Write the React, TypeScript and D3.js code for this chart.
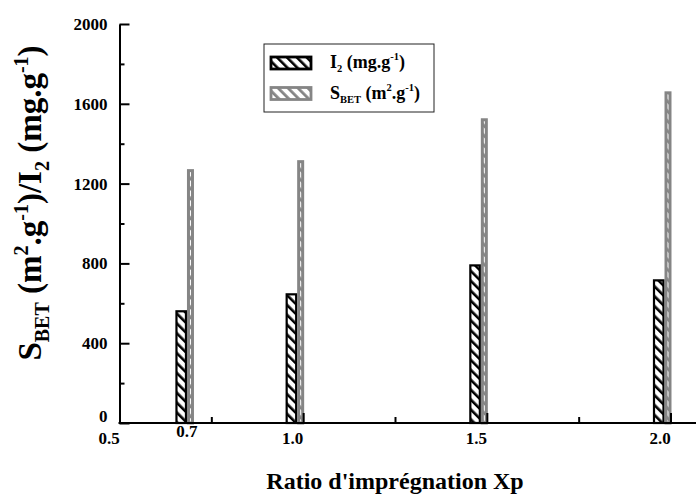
import React, { useEffect, useRef } from 'react'
import * as d3 from 'd3'

// Data
const ratios = [0.7, 1.0, 1.5, 2.0]
const iodine = [560, 645, 790, 715] // I2 (mg/g)
const sbet = [1265, 1310, 1520, 1655] // SBET (m2/g)

const xTicks = [0.5, 1.0, 1.5, 2.0]
const xMinor = [0.75, 1.25, 1.75]
const yTicks = [0, 400, 800, 1200, 1600, 2000]
const yMinor = [200, 600, 1000, 1400, 1800]

const W = 696
const H = 500
const FONT = "'Liberation Serif', 'Times New Roman', Times, serif"
const GREY = '#858585'

const App = () => {
    const svgRef = useRef<SVGSVGElement>(null)

    useEffect(() => {
        const svg = d3.select(svgRef.current)
        svg.selectAll('*').remove()

        const x = d3.scaleLinear().domain([0.5, 2.0]).range([119.5, 670.5])
        const y = d3.scaleLinear().domain([0, 2000]).range([423, 24])

        // hatch patterns
        const defs = svg.append('defs')
        const hatch = (id: string, color: string, lw: number) => {
            defs.append('pattern')
                .attr('id', id)
                .attr('patternUnits', 'userSpaceOnUse')
                .attr('width', 7)
                .attr('height', 10)
                .attr('patternTransform', 'rotate(-45)')
                .append('rect')
                .attr('width', lw)
                .attr('height', 10)
                .attr('fill', color)
        }
        hatch('hatchBlack', '#000', 2.6)
        hatch('hatchGrey', GREY, 2.8)

        // bars: I2 left of the ratio, SBET right next to it
        const g = svg.append('g')
        g.selectAll('.i2')
            .data(ratios)
            .join('rect')
            .attr('class', 'i2')
            .attr('x', d => x(d) - 16.5)
            .attr('width', 9.5)
            .attr('y', (d, i) => y(iodine[i]))
            .attr('height', (d, i) => y(0) - y(iodine[i]))
            .attr('fill', 'url(#hatchBlack)')
            .attr('stroke', '#000')
            .attr('stroke-width', 2.2)

        g.selectAll('.sbet')
            .data(ratios)
            .join('rect')
            .attr('class', 'sbet')
            .attr('x', d => x(d) - 4.5)
            .attr('width', 4)
            .attr('y', (d, i) => y(sbet[i]))
            .attr('height', (d, i) => y(0) - y(sbet[i]))
            .attr('fill', 'url(#hatchGrey)')
            .attr('stroke', GREY)
            .attr('stroke-width', 3)

        // Y axis
        const yAxis = d3.axisLeft(y).tickValues(yTicks).tickSizeInner(-10).tickSizeOuter(0).tickPadding(12).tickFormat(d3.format('d'))
        const ya = svg.append('g').attr('transform', `translate(${x(0.5)},0)`).call(yAxis)
        ya.attr('font-family', null).attr('font-size', null)
        ya.select('.domain').attr('stroke-width', 2)
        ya.selectAll('.tick line').attr('stroke-width', 2)
        ya.selectAll('.tick text')
            .style('font-family', FONT)
            .style('font-weight', 'bold')
            .style('font-size', '17px')
            .attr('fill', '#000')
            .attr('dy', (d: any) => (d === 0 ? '-0.1em' : '0.32em'))
        svg.append('g').attr('transform', `translate(${x(0.5)},0)`)
            .call(d3.axisLeft(y).tickValues(yMinor).tickSizeInner(-5).tickSizeOuter(0).tickFormat(() => ''))
            .call(s => s.select('.domain').remove())
            .selectAll('.tick line').attr('stroke-width', 2)

        // X axis
        svg.append('line')
            .attr('x1', x(0.5) - 1).attr('x2', W)
            .attr('y1', y(0)).attr('y2', y(0))
            .attr('stroke', '#000').attr('stroke-width', 2)
        const xa = svg.append('g').attr('transform', `translate(0,${y(0)})`)
            .call(d3.axisBottom(x).tickValues(xTicks).tickSizeInner(-10).tickSizeOuter(0).tickPadding(9).tickFormat(d3.format('.1f')))
        xa.attr('font-family', null).attr('font-size', null)
        xa.select('.domain').remove()
        xa.selectAll('.tick line').attr('stroke-width', 2)
        xa.selectAll('.tick text')
            .style('font-family', FONT)
            .style('font-weight', 'bold')
            .style('font-size', '17px')
            .attr('fill', '#000')
            .attr('dx', -11)
        svg.append('g').attr('transform', `translate(0,${y(0)})`)
            .call(d3.axisBottom(x).tickValues(xMinor).tickSizeInner(-6).tickSizeOuter(0).tickFormat(() => ''))
            .call(s => s.select('.domain').remove())
            .selectAll('.tick line').attr('stroke-width', 2)

        // 0.7 label
        svg.append('text')
            .attr('x', x(ratios[0]) - 6)
            .attr('y', 437)
            .attr('text-anchor', 'middle')
            .style('font-family', FONT).style('font-weight', 'bold').style('font-size', '17px')
            .text(ratios[0].toFixed(1))

        // axis titles
        svg.append('text')
            .attr('x', 395).attr('y', 489)
            .attr('text-anchor', 'middle')
            .style('font-family', FONT).style('font-weight', 'bold').style('font-size', '24px')
            .text("Ratio d'imprégnation Xp")

        const yt = svg.append('text')
            .attr('transform', 'translate(41,203) rotate(-90)')
            .attr('text-anchor', 'middle')
            .style('font-family', FONT).style('font-weight', 'bold').style('font-size', '33px')
        const parts: [string, number][] = [
            ['S', 0], ['BET', 1], [' (m', 0], ['2', -1], ['.g', 0], ['-1', -1], [')/I', 0], ['2', 1], [' (mg.g', 0], ['-1', -1], [')', 0],
        ]
        let prev = 0
        parts.forEach(([t, k]) => {
            const off = k === 1 ? 8 : k === -1 ? -13 : 0
            yt.append('tspan')
                .attr('dy', off - prev)
                .style('font-size', k === 0 ? '33px' : '20px')
                .text(t)
            prev = off
        })

        // legend
        const lg = svg.append('g')
        lg.append('rect')
            .attr('x', 264).attr('y', 44).attr('width', 170).attr('height', 68)
            .attr('fill', '#fff').attr('stroke', '#222').attr('stroke-width', 1)
        const items = [
            { fill: 'url(#hatchBlack)', stroke: '#000', parts: [['I', 0], ['2', 1], [' (mg.g', 0], ['-1', -1], [')', 0]] },
            { fill: 'url(#hatchGrey)', stroke: GREY, parts: [['S', 0], ['BET', 1], [' (m', 0], ['2', -1], ['.g', 0], ['-1', -1], [')', 0]] },
        ]
        items.forEach((it, i) => {
            const cy = 63 + i * 30.5
            lg.append('rect')
                .attr('x', 271).attr('y', cy - 6).attr('width', 40).attr('height', 12)
                .attr('fill', it.fill).attr('stroke', it.stroke).attr('stroke-width', 2.8)
            const t = lg.append('text')
                .attr('x', 330).attr('y', cy + 5)
                .style('font-family', FONT).style('font-weight', 'bold').style('font-size', '18px')
            let p = 0
            it.parts.forEach(([s, k]: any) => {
                const off = k === 1 ? 4 : k === -1 ? -8 : 0
                t.append('tspan').attr('dy', off - p).style('font-size', k === 0 ? '18px' : '10.5px').text(s)
                p = off
            })
        })
    }, [])

    return (
        <svg ref={svgRef} width={W} height={H} style={{ position: 'absolute', left: 0, top: 0, background: '#fff' }} />
    )
}

export default App
